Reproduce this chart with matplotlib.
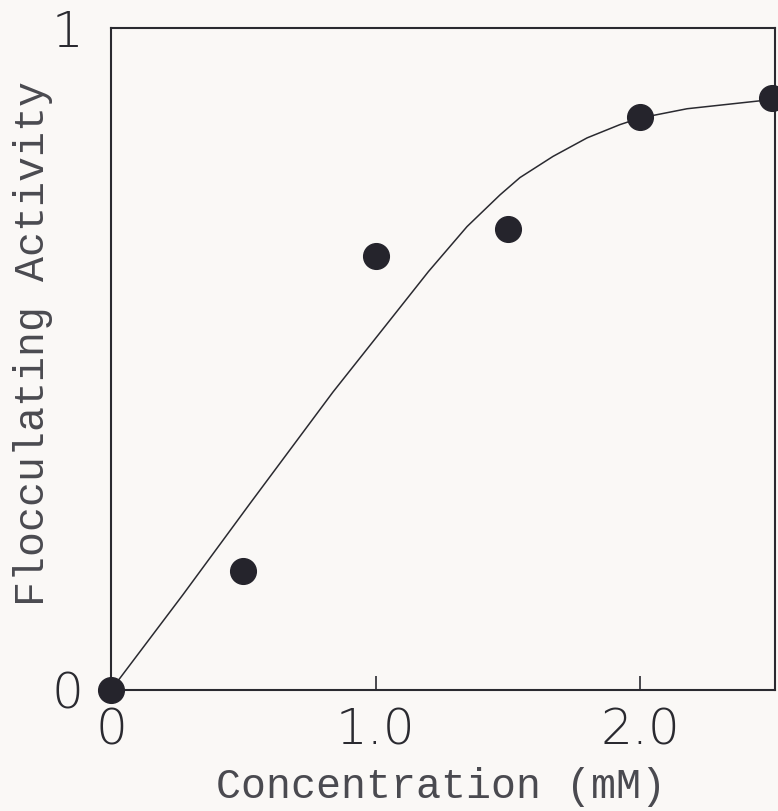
import numpy as np
import matplotlib.pyplot as plt

# measured points (filled circles)
conc = [0.0, 0.5, 1.0, 1.5, 2.0, 2.5]
activity = [0.0, 0.179, 0.655, 0.697, 0.865, 0.894]

# hand-drawn fitted curve
curve_x = [0.0, 0.272, 0.526, 0.839, 1.093, 1.2, 1.346, 1.471, 1.546, 1.671, 1.80, 1.924,
           2.0, 2.178, 2.454, 2.51]
curve_y = [0.0, 0.144, 0.282, 0.450, 0.578, 0.632, 0.700, 0.748, 0.774, 0.806, 0.834, 0.854,
           0.864, 0.878, 0.890, 0.892]

xticks = [0, 1.0, 2.0]
xtick_labels = ['0', '1.0', '2.0']
yticks = [0, 1]
ytick_labels = ['0', '1']

fig = plt.figure(figsize=(7.78, 8.11), dpi=100, facecolor='#faf8f6')
ax = fig.add_axes([0.1427, 0.1492, 0.996 - 0.1427, 0.9655 - 0.1492])
ax.set_facecolor('none')

ax.plot(curve_x, curve_y, color='#2a2a30', lw=1.1, zorder=2)
ax.plot(conc, activity, 'o', color='#25242c', ms=18.5, zorder=3, clip_on=False)

ax.set_xlim(0, 2.51)
ax.set_ylim(0, 1)

for s in ax.spines.values():
    s.set_linewidth(1.5)
    s.set_color('#2a2a30')

ax.set_xticks(xticks)
ax.set_xticklabels(xtick_labels, fontsize=36, fontweight='light', color='#2a2a30')
ax.set_yticks(yticks)
ax.set_yticklabels(ytick_labels, fontsize=36, fontweight='light', color='#2a2a30')
ax.tick_params(axis='x', direction='in', length=10, width=1.2, pad=12, color='#2a2a30')
ax.tick_params(axis='y', length=0, pad=20)

ax.set_xlabel('Concentration (mM)', family='Liberation Mono', fontsize=30,
              color='#4a4a50')
ax.set_ylabel('Flocculating Activity', family='Liberation Mono', fontsize=30,
              color='#4a4a50')
ax.xaxis.set_label_coords(0.497, -0.117)
ax.yaxis.set_label_coords(-0.088, 0.524)

fig.savefig('out.png', dpi=100, facecolor='#faf8f6')
